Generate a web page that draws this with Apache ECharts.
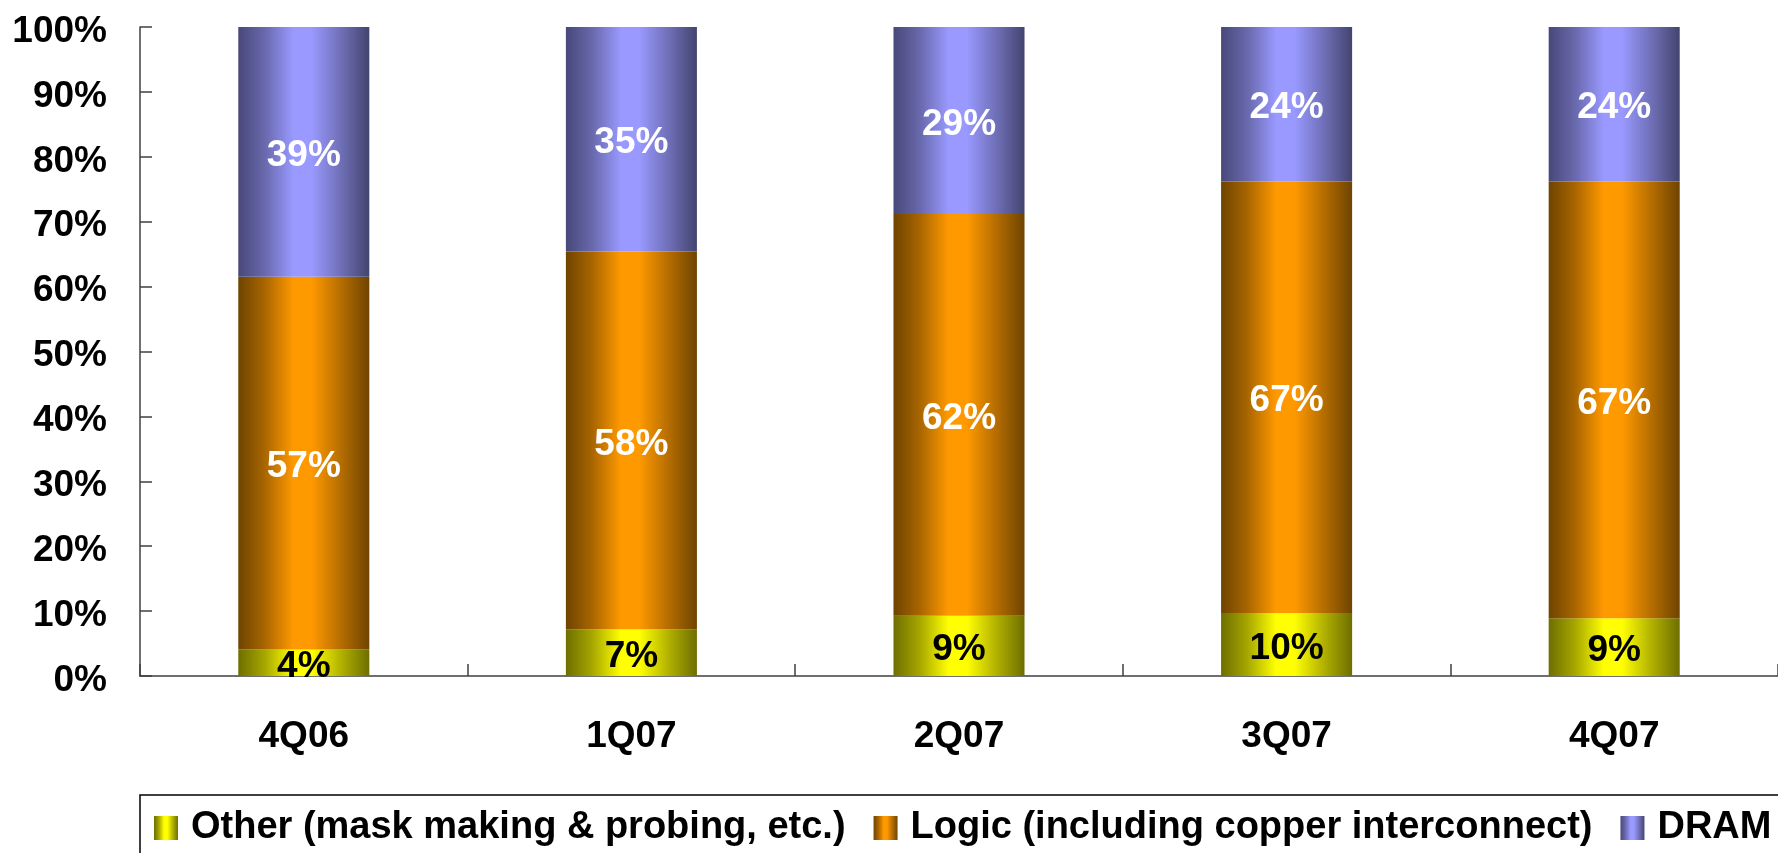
<!DOCTYPE html>
<html>
<head>
<meta charset="utf-8">
<script src="https://cdn.jsdelivr.net/npm/echarts@6/dist/echarts.min.js"></script>
<style>
html,body{margin:0;padding:0;background:#fff;}
#c{width:1778px;height:853px;}
</style>
</head>
<body>
<div id="c"></div>
<script>
const categories = ['4Q06', '1Q07', '2Q07', '3Q07', '4Q07'];
const seriesNames = ['Other (mask making & probing, etc.)', 'Logic (including copper interconnect)', 'DRAM'];
const otherValues = [4.1, 7.2, 9.3, 9.7, 8.9];
const logicValues = [57.4, 58.2, 61.9, 66.5, 67.3];
const dramValues = [38.5, 34.6, 28.8, 23.8, 23.8];
const yTicks = [0, 10, 20, 30, 40, 50, 60, 70, 80, 90, 100];

const FONT = "'Liberation Sans', Arial, sans-serif";

function grad(edgeL, mid, peak, edgeR, midR) {
  return new echarts.graphic.LinearGradient(0, 0, 1, 0, [
    {offset: 0, color: edgeL},
    {offset: 0.2, color: mid},
    {offset: 0.42, color: peak},
    {offset: 0.56, color: peak},
    {offset: 0.8, color: midR},
    {offset: 1, color: edgeR}
  ]);
}
const yellowG = grad('#6e6e00', '#a6a600', '#ffff00', '#6e6e00', '#acac00');
const orangeG = grad('#6e4400', '#a86500', '#ff9900', '#6e4400', '#b06a00');
const blueG = grad('#48487a', '#6868ac', '#9999ff', '#444470', '#6c6cb2');

const labelFmt = p => Math.round(p.value) + '%';

function mkSeries(name, data, color, labelColor) {
  return {
    name: name,
    type: 'bar',
    stack: 'total',
    data: data,
    barWidth: '40%',
    itemStyle: {color: color},
    label: {
      show: true,
      position: 'inside',
      offset: [0, 4],
      formatter: labelFmt,
      color: labelColor,
      fontFamily: FONT,
      fontWeight: 'bold',
      fontSize: 37
    },
    emphasis: {disabled: true}
  };
}

const chart = echarts.init(document.getElementById('c'), null, {renderer: 'canvas'});
chart.setOption({
  animation: false,
  backgroundColor: '#fff',
  grid: {left: 140, right: -12, top: 27, bottom: 177, containLabel: false},
  legend: {
    data: seriesNames,
    left: 140,
    top: 795,
    width: 3000,
    orient: 'horizontal',
    borderColor: '#000',
    borderWidth: 1.5,
    padding: [14, 30, 14, 14],
    itemWidth: 24,
    itemHeight: 24,
    itemGap: 28,
    icon: 'rect',
    textStyle: {
      fontFamily: FONT,
      fontWeight: 'bold',
      fontSize: 38,
      lineHeight: 38,
      color: '#000',
      padding: [0, 0, 0, 8]
    }
  },
  xAxis: {
    type: 'category',
    data: categories,
    axisLine: {lineStyle: {color: '#404040', width: 1.5}},
    axisTick: {show: true, inside: true, length: 12, alignWithLabel: false, lineStyle: {color: '#404040', width: 1.5}},
    axisLabel: {fontFamily: FONT, fontWeight: 'bold', fontSize: 37, color: '#000', margin: 42, lineHeight: 37},
    splitLine: {show: false}
  },
  yAxis: {
    type: 'value',
    min: yTicks[0],
    max: yTicks[yTicks.length - 1],
    interval: yTicks[1] - yTicks[0],
    axisLine: {show: true, lineStyle: {color: '#404040', width: 1.5}},
    axisTick: {show: true, inside: true, length: 12, lineStyle: {color: '#404040', width: 1.5}},
    axisLabel: {
      fontFamily: FONT, fontWeight: 'bold', fontSize: 37, color: '#000', margin: 33,
      formatter: v => '{a|' + v + '%}',
      rich: {a: {fontFamily: FONT, fontWeight: 'bold', fontSize: 37, color: '#000', padding: [9, 0, 0, 0]}}
    },
    splitLine: {show: false}
  },
  series: [
    mkSeries(seriesNames[0], otherValues, yellowG, '#000'),
    mkSeries(seriesNames[1], logicValues, orangeG, '#fff'),
    mkSeries(seriesNames[2], dramValues, blueG, '#fff')
  ]
});
</script>
</body>
</html>
